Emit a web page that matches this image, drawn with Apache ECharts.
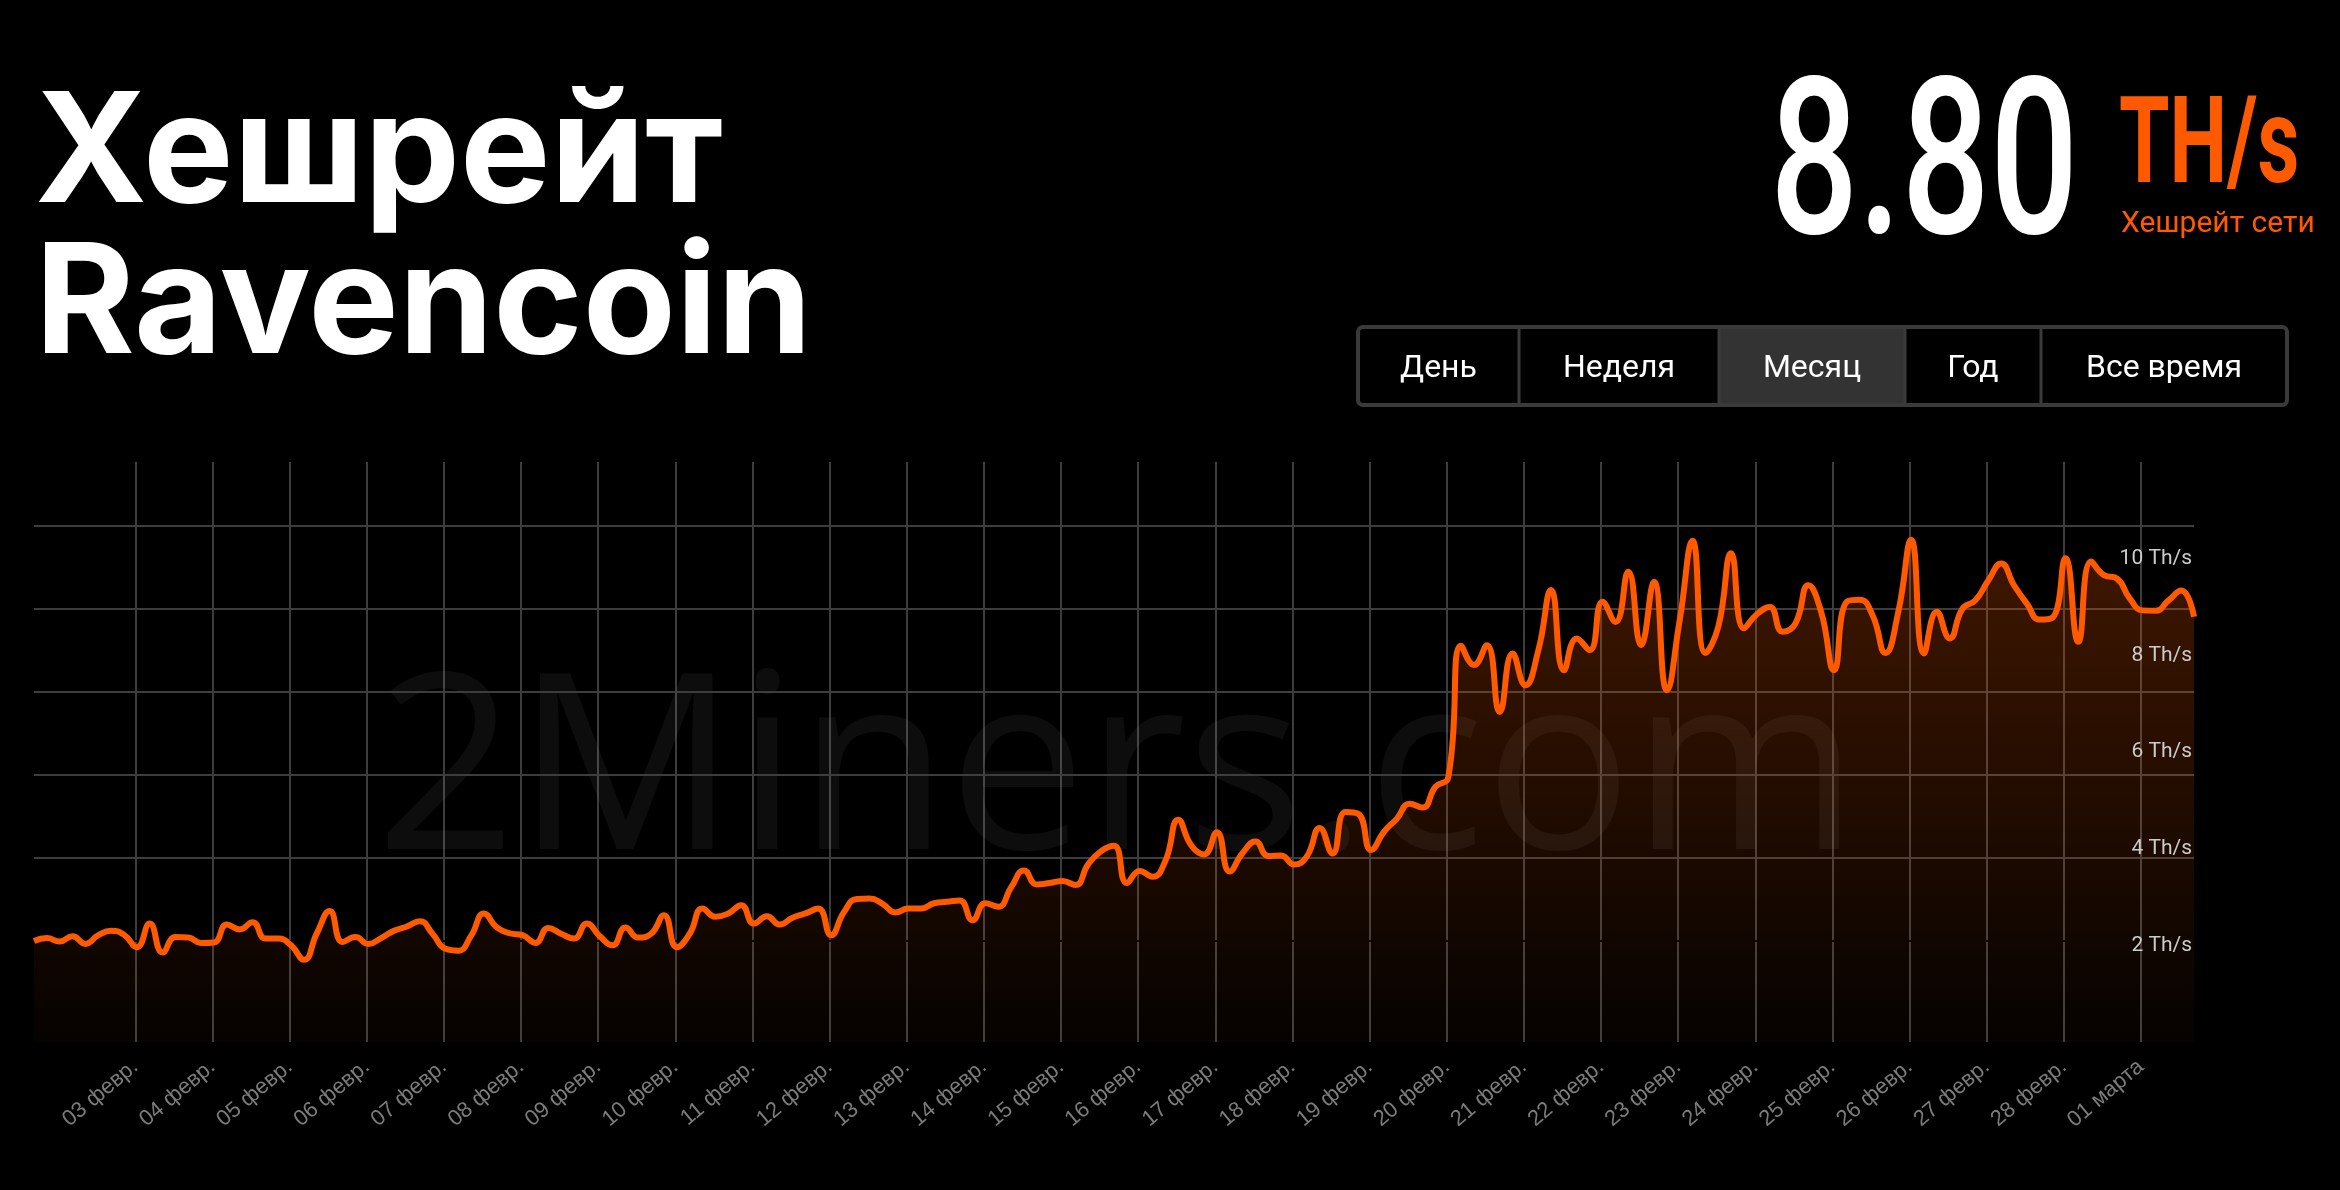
<!DOCTYPE html>
<html>
<head>
<meta charset="utf-8">
<title>Хешрейт Ravencoin</title>
<script src="https://cdn.jsdelivr.net/npm/echarts@6/dist/echarts.min.js"></script>
<style>
  html, body { margin: 0; padding: 0; background: #000; }
  #main { width: 2340px; height: 1190px; }
</style>
</head>
<body>
<div id="main"></div>
<script>
// Хешрейт сети (Th/s), точка каждые 4 часа начиная с 01 февр. 16:30
var hashrate = [
  2.09, 2.15, 2.08, 2.19, 2.03, 2.21, 2.30, 2.22, 1.96, 2.45,
  1.85, 2.17, 2.16, 2.05, 2.06, 2.43, 2.33, 2.48, 2.14, 2.14,
  2.00, 1.70, 2.25, 2.71, 2.07, 2.17, 2.03, 2.15, 2.30, 2.39,
  2.50, 2.24, 1.93, 1.89, 2.20, 2.66, 2.37, 2.25, 2.21, 2.05,
  2.36, 2.24, 2.14, 2.45, 2.19, 2.00, 2.37, 2.16, 2.24, 2.62,
  1.96, 2.24, 2.76, 2.59, 2.66, 2.83, 2.45, 2.60, 2.43, 2.57,
  2.66, 2.76, 2.21, 2.69, 2.96, 2.97, 2.86, 2.68, 2.76, 2.76,
  2.87, 2.90, 2.93, 2.52, 2.87, 2.80, 3.20, 3.55, 3.26, 3.29,
  3.33, 3.25, 3.68, 3.95, 4.06, 3.29, 3.54, 3.42, 3.75, 4.60,
  4.07, 3.88, 4.34, 3.53, 3.91, 4.15, 3.85, 3.86, 3.67, 3.84,
  4.43, 3.90, 4.76, 4.72, 3.97, 4.35, 4.62, 4.93, 4.85, 5.28,
  5.48, 8.20, 7.80, 8.21, 6.83, 8.04, 7.38, 8.10, 9.35, 7.69,
  8.35, 8.11, 9.11, 8.69, 9.73, 8.21, 9.52, 7.28, 8.73, 10.37,
  8.05, 8.59, 10.11, 8.56, 8.85, 9.00, 8.49, 8.66, 9.45, 8.90,
  7.69, 9.11, 9.15, 8.83, 8.05, 8.90, 10.39, 8.04, 8.90, 8.35,
  8.97, 9.14, 9.55, 9.90, 9.45, 9.07, 8.74, 8.78, 10.01, 8.28,
  9.94, 9.66, 9.59, 9.18, 8.93, 8.92, 9.13, 9.34, 8.80
];
// первая точка: за 31.5 часа до 03 февр. 00:00, шаг 4 часа
var startHour = -31.5;
var stepHours = 4;

// Подписи оси X (полночь каждого дня)
var dayLabels = [
  '03 февр.', '04 февр.', '05 февр.', '06 февр.', '07 февр.', '08 февр.',
  '09 февр.', '10 февр.', '11 февр.', '12 февр.', '13 февр.', '14 февр.',
  '15 февр.', '16 февр.', '17 февр.', '18 февр.', '19 февр.', '20 февр.',
  '21 февр.', '22 февр.', '23 февр.', '24 февр.', '25 февр.', '26 февр.',
  '27 февр.', '28 февр.', '01 марта'
];
var dayTicks = dayLabels.map(function (s, i) { return i; });

// Горизонтальная сетка (Th/s)
var gridValues = [2.09, 3.81, 5.52, 7.24, 8.96, 10.69];

// Текущее значение и кнопки
var currentValue = '8.80';
var currentUnit = 'TH/s';
var currentCaption = 'Хешрейт сети';
var ranges = ['День', 'Неделя', 'Месяц', 'Год', 'Все время'];
var activeRange = 'Месяц';

var orange = '#ff5a00';

var seriesData = hashrate.map(function (v, k) {
    return [(startHour + k * stepHours) / 24, v];
});

// Кнопки периода
var btnEdges = [1358, 1519, 1719, 1905, 2041, 2287];
var btnTop = 327, btnHeight = 78;
var buttonEls = [];
ranges.forEach(function (name, i) {
    if (name === activeRange) {
        buttonEls.push({
            type: 'rect',
            shape: { x: btnEdges[i], y: btnTop + 2, width: btnEdges[i + 1] - btnEdges[i], height: btnHeight - 4 },
            style: { fill: '#333333' }
        });
    }
});
for (var i = 1; i < btnEdges.length - 1; i++) {
    buttonEls.push({
        type: 'line',
        shape: { x1: btnEdges[i], y1: btnTop, x2: btnEdges[i], y2: btnTop + btnHeight },
        style: { stroke: '#3a3a3a', lineWidth: 3 }
    });
}
buttonEls.push({
    type: 'rect',
    shape: { x: btnEdges[0], y: btnTop, width: btnEdges[5] - btnEdges[0], height: btnHeight, r: 5 },
    style: { fill: null, stroke: '#3a3a3a', lineWidth: 4 }
});
ranges.forEach(function (name, i) {
    buttonEls.push({
        type: 'text',
        x: (btnEdges[i] + btnEdges[i + 1]) / 2,
        y: 369,
        style: {
            text: name, fill: '#ffffff',
            fontSize: 32, fontFamily: 'Roboto', fontWeight: 400,
            align: 'center', verticalAlign: 'middle',
            textAlign: 'center', textVerticalAlign: 'middle'
        }
    });
});

var grafico = echarts.init(document.getElementById('main'));

var option = {
    backgroundColor: '#000000',
    animation: false,
    grid: { left: 34, right: 146, top: 462, bottom: 148 },
    xAxis: {
        type: 'value',
        min: startHour / 24,
        max: (startHour + (hashrate.length - 1) * stepHours) / 24,
        axisLine: { show: false },
        axisTick: { show: false, customValues: dayTicks },
        axisLabel: {
            customValues: dayTicks,
            rotate: 40,
            margin: 22,
            color: '#7c7c7c',
            fontSize: 22,
            fontFamily: 'Liberation Sans',
            formatter: function (v) { return dayLabels[Math.round(v)] || ''; }
        },
        splitLine: { show: true, lineStyle: { color: '#3d3d3d', width: 2 } }
    },
    yAxis: [{
        type: 'value',
        position: 'right',
        min: 0,
        max: 12,
        interval: 2,
        z: 5,
        axisLine: { show: false },
        axisTick: { show: false },
        splitLine: { show: false },
        axisLabel: {
            inside: true,
            margin: 2,
            color: '#cccccc',
            fontSize: 21,
            fontFamily: 'Roboto',
            formatter: function (v) { return (v === 0 || v === 12) ? '' : v + ' Th/s'; }
        }
    }, {
        type: 'value',
        position: 'left',
        min: 0,
        max: 12,
        z: 1,
        axisLine: { show: false },
        axisTick: { show: false, customValues: gridValues },
        axisLabel: { show: false },
        splitLine: {
            show: true,
            lineStyle: { color: ['#000000', '#3d3d3d', '#3d3d3d', '#3d3d3d', '#3d3d3d', '#3d3d3d'], width: 2 }
        }
    }],
    graphic: {
        elements: [{
            type: 'text', x: 35, y: 156, z: 10,
            style: { text: 'Хешрейт', fill: '#ffffff', fontSize: 152, fontWeight: 700, fontFamily: 'Inter',
                align: 'left', verticalAlign: 'middle', textAlign: 'left', textVerticalAlign: 'middle' }
        }, {
            type: 'text', x: 35, y: 307, z: 10,
            style: { text: 'Ravencoin', fill: '#ffffff', fontSize: 152, fontWeight: 700, fontFamily: 'Inter',
                align: 'left', verticalAlign: 'middle', textAlign: 'left', textVerticalAlign: 'middle' }
        }, {
            type: 'text', x: 1770, y: 178, scaleX: 0.71, z: 10,
            style: { text: currentValue, fill: '#ffffff', fontSize: 219, fontWeight: 500, fontFamily: 'Roboto',
                align: 'left', verticalAlign: 'middle', textAlign: 'left', textVerticalAlign: 'middle' }
        }, {
            type: 'text', x: 2119, y: 152, scaleX: 0.68, z: 10,
            style: { text: currentUnit, fill: orange, fontSize: 120, fontWeight: 700, fontFamily: 'Roboto',
                align: 'left', verticalAlign: 'middle', textAlign: 'left', textVerticalAlign: 'middle' }
        }, {
            type: 'text', x: 2121, y: 224, z: 10,
            style: { text: currentCaption, fill: orange, fontSize: 30, fontWeight: 400, fontFamily: 'Roboto',
                align: 'left', verticalAlign: 'middle', textAlign: 'left', textVerticalAlign: 'middle' }
        }, {
            // водяной знак
            type: 'text', x: 376, y: 779, z: 1, silent: true,
            style: { text: '2Miners.com', fill: 'rgba(255,255,255,0.05)', fontSize: 245, fontWeight: 400,
                fontFamily: 'Open Sans', align: 'left', verticalAlign: 'middle',
                textAlign: 'left', textVerticalAlign: 'middle' }
        }, {
            type: 'group', z: 10,
            children: buttonEls
        }]
    },
    series: [{
        name: 'Хешрейт',
        type: 'line',
        yAxisIndex: 0,
        data: seriesData,
        showSymbol: false,
        smooth: 0.5,
        z: 3,
        lineStyle: { color: orange, width: 6 },
        itemStyle: { color: orange },
        areaStyle: {
            color: new echarts.graphic.LinearGradient(0, 0, 0, 1, [
                { offset: 0, color: 'rgba(255,90,0,0.36)' },
                { offset: 1, color: 'rgba(255,90,0,0.03)' }
            ])
        }
    }]
};

grafico.setOption(option);
</script>
</body>
</html>
